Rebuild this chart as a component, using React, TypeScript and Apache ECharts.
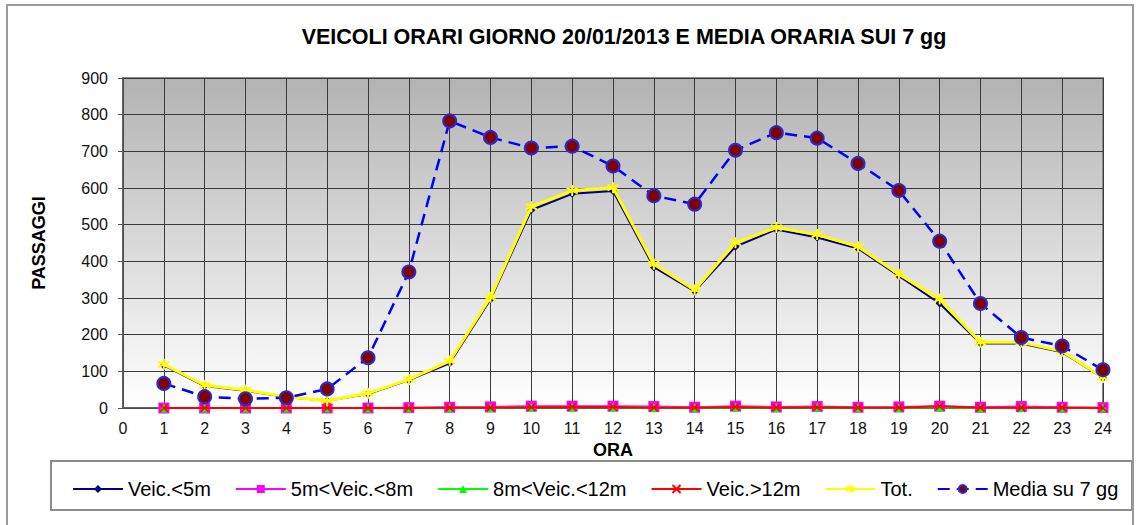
import React, { useEffect, useRef } from "react";
import * as echarts from "echarts";

const hours = [1, 2, 3, 4, 5, 6, 7, 8, 9, 10, 11, 12, 13, 14, 15, 16, 17, 18, 19, 20, 21, 22, 23, 24];
const xTicks = [0, 1, 2, 3, 4, 5, 6, 7, 8, 9, 10, 11, 12, 13, 14, 15, 16, 17, 18, 19, 20, 21, 22, 23, 24];
const yTicks = [0, 100, 200, 300, 400, 500, 600, 700, 800, 900];

const veicSotto5 = [116, 60, 47, 30, 20, 38, 76, 122, 296, 540, 584, 592, 384, 318, 440, 487, 465, 435, 360, 285, 176, 176, 152, 82];
const veic5a8 = [0, 0, 0, 0, 0, 0, 1, 2, 3, 5, 5, 5, 4, 2, 5, 3, 4, 2, 3, 5, 2, 4, 2, 1];
const veic8a12 = [0, 0, 0, 0, 0, 0, 0, 1, 1, 2, 2, 2, 1, 1, 2, 1, 2, 1, 1, 2, 0, 1, 1, 0];
const veicOltre12 = [0, 0, 0, 0, 0, 0, 0, 1, 1, 2, 3, 3, 1, 1, 3, 1, 2, 1, 1, 5, 1, 1, 1, 0];
const totale = [119, 62, 49, 31, 20, 40, 78, 128, 302, 549, 593, 601, 392, 322, 451, 492, 473, 440, 365, 297, 179, 179, 155, 83];
const media7gg = [67, 31, 25, 28, 52, 137, 371, 783, 738, 709, 714, 660, 579, 556, 703, 751, 736, 667, 593, 455, 285, 192, 169, 104];

const seriesNames = ["Veic.<5m", "5m<Veic.<8m", "8m<Veic.<12m", "Veic.>12m", "Tot.", "Media su 7 gg"];

const FONT = "'Liberation Sans', Arial, sans-serif";

const pairs = (vals: number[]) => hours.map((h, i) => [h, vals[i]]);

export default function App() {
  const ref = useRef<HTMLDivElement>(null);
  useEffect(() => {
    if (!ref.current) return;
    const chart = echarts.init(ref.current, undefined, { renderer: "svg" });
    const xShape = "path://M0,0 L10,10 M10,0 L0,10";
    const starShape = "path://M5,0 L5,10 M0,2.5 L10,7.5 M0,7.5 L10,2.5";
    chart.setOption({
      animation: false,
      backgroundColor: "#ffffff",
      textStyle: { fontFamily: FONT },
      title: {
        text: "VEICOLI ORARI GIORNO 20/01/2013 E MEDIA ORARIA SUI 7 gg",
        left: 619,
        textAlign: "center",
        top: 21,
        textStyle: { fontFamily: FONT, fontSize: 21.5, fontWeight: "bold", color: "#000" },
      },
      graphic: [
        {
          type: "rect",
          shape: { x: 7, y: 5, width: 1126, height: 530 },
          style: { fill: "none", stroke: "#9a9a9a", lineWidth: 2 },
          silent: true,
        },
        {
          type: "rect",
          shape: { x: 51, y: 461, width: 1081, height: 49 },
          style: { fill: "#fff", stroke: "#8c8c8c", lineWidth: 2 },
          silent: true,
          z: -1,
        },
      ],
      legend: {
        data: seriesNames,
        left: 67,
        top: 474,
        itemWidth: 50,
        itemHeight: 10,
        itemGap: 24,
        textStyle: { fontFamily: FONT, fontSize: 20, color: "#000" },
      },
      grid: {
        left: 123,
        top: 78,
        right: 33,
        bottom: 117,
        show: true,
        backgroundColor: new echarts.graphic.LinearGradient(0, 0, 0, 1, [
          { offset: 0, color: "#b3b3b3" },
          { offset: 1, color: "#ffffff" },
        ]),
        borderColor: "#8a8a8a",
        borderWidth: 2,
      },
      xAxis: {
        type: "value",
        min: xTicks[0],
        max: xTicks[xTicks.length - 1],
        interval: 1,
        name: "ORA",
        nameLocation: "middle",
        nameGap: 31,
        nameTextStyle: { fontFamily: FONT, fontSize: 18, fontWeight: "bold", color: "#000" },
        axisLine: { show: true, lineStyle: { color: "#555", width: 1.5 } },
        axisTick: { show: false },
        axisLabel: { fontFamily: FONT, fontSize: 16, color: "#111", margin: 12 },
        splitLine: { show: true, lineStyle: { color: "#3a3a3a", width: 1 } },
      },
      yAxis: {
        type: "value",
        min: yTicks[0],
        max: yTicks[yTicks.length - 1],
        interval: 100,
        name: "PASSAGGI",
        nameLocation: "middle",
        nameRotate: 90,
        nameGap: 75,
        nameTextStyle: { fontFamily: FONT, fontSize: 18, fontWeight: "bold", color: "#000" },
        axisLine: { show: true, lineStyle: { color: "#555", width: 1.5 } },
        axisTick: { show: true, length: 5, lineStyle: { color: "#555" } },
        axisLabel: { fontFamily: FONT, fontSize: 16, color: "#111", margin: 15 },
        splitLine: { show: true, lineStyle: { color: "#3a3a3a", width: 1 } },
      },
      series: [
        {
          name: seriesNames[0],
          type: "line",
          data: pairs(veicSotto5),
          symbol: "diamond",
          symbolSize: 8,
          lineStyle: { color: "#000080", width: 2 },
          itemStyle: { color: "#000080" },
          z: 3,
        },
        {
          name: seriesNames[1],
          type: "line",
          data: pairs(veic5a8),
          symbol: "rect",
          symbolSize: 11,
          lineStyle: { color: "#ff00ff", width: 2 },
          itemStyle: { color: "#ff00ff" },
          z: 3,
        },
        {
          name: seriesNames[2],
          type: "line",
          data: pairs(veic8a12),
          symbol: "triangle",
          symbolSize: 9,
          lineStyle: { color: "#00ff00", width: 2 },
          itemStyle: { color: "#00ff00" },
          z: 3,
        },
        {
          name: seriesNames[3],
          type: "line",
          data: pairs(veicOltre12),
          symbol: xShape,
          symbolSize: 8,
          lineStyle: { color: "#ff0000", width: 2 },
          itemStyle: { color: "#ff0000", borderColor: "#ff0000", borderWidth: 1.5 },
          z: 4,
        },
        {
          name: seriesNames[4],
          type: "line",
          data: pairs(totale),
          symbol: starShape,
          symbolSize: 11,
          lineStyle: { color: "#ffff00", width: 3 },
          itemStyle: { color: "#ffff00", borderColor: "#ffff00", borderWidth: 2 },
          z: 5,
        },
        {
          name: seriesNames[5],
          type: "line",
          data: pairs(media7gg),
          symbol: "circle",
          symbolSize: 13,
          lineStyle: { color: "#0000ff", width: 2.5, type: [12, 7] },
          itemStyle: { color: "#800000", borderColor: "#2a2ad0", borderWidth: 2 },
          z: 6,
        },
      ],
    });
    return () => chart.dispose();
  }, []);
  return (
    <div
      ref={ref}
      style={{ position: "fixed", left: 0, top: 0, width: 1136, height: 525, background: "#fff" }}
    />
  );
}
